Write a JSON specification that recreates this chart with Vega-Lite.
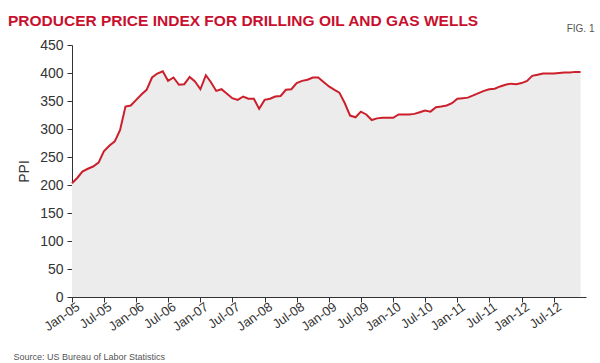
{
  "$schema": "https://vega.github.io/schema/vega-lite/v6.json",
  "width": 514,
  "height": 252,
  "autosize": "none",
  "padding": {"left": 72, "top": 45, "right": 14, "bottom": 66},
  "background": "white",
  "config": {"view": {"stroke": null}},
  "title": {
    "text": "PRODUCER PRICE INDEX FOR DRILLING OIL AND GAS WELLS",
    "anchor": "start",
    "frame": "group",
    "dx": -64,
    "offset": -18,
    "font": "Liberation Sans",
    "fontWeight": "bold",
    "fontSize": 15.5,
    "color": "#c8102e",
    "baseline": "alphabetic"
  },
  "data": {"values": [
    {"date": "2005-01-01", "ppi": 203}, {"date": "2005-02-01", "ppi": 213}, {"date": "2005-03-01", "ppi": 224}, {"date": "2005-04-01", "ppi": 229},
    {"date": "2005-05-01", "ppi": 233}, {"date": "2005-06-01", "ppi": 240}, {"date": "2005-07-01", "ppi": 260}, {"date": "2005-08-01", "ppi": 270},
    {"date": "2005-09-01", "ppi": 278}, {"date": "2005-10-01", "ppi": 298}, {"date": "2005-11-01", "ppi": 340}, {"date": "2005-12-01", "ppi": 342},
    {"date": "2006-01-01", "ppi": 352}, {"date": "2006-02-01", "ppi": 362}, {"date": "2006-03-01", "ppi": 370}, {"date": "2006-04-01", "ppi": 392},
    {"date": "2006-05-01", "ppi": 399}, {"date": "2006-06-01", "ppi": 403}, {"date": "2006-07-01", "ppi": 386}, {"date": "2006-08-01", "ppi": 392},
    {"date": "2006-09-01", "ppi": 379}, {"date": "2006-10-01", "ppi": 380}, {"date": "2006-11-01", "ppi": 393}, {"date": "2006-12-01", "ppi": 385},
    {"date": "2007-01-01", "ppi": 371}, {"date": "2007-02-01", "ppi": 396}, {"date": "2007-03-01", "ppi": 384}, {"date": "2007-04-01", "ppi": 368},
    {"date": "2007-05-01", "ppi": 371}, {"date": "2007-06-01", "ppi": 363}, {"date": "2007-07-01", "ppi": 355}, {"date": "2007-08-01", "ppi": 352},
    {"date": "2007-09-01", "ppi": 358}, {"date": "2007-10-01", "ppi": 354}, {"date": "2007-11-01", "ppi": 354}, {"date": "2007-12-01", "ppi": 336},
    {"date": "2008-01-01", "ppi": 352}, {"date": "2008-02-01", "ppi": 354}, {"date": "2008-03-01", "ppi": 358}, {"date": "2008-04-01", "ppi": 359},
    {"date": "2008-05-01", "ppi": 370}, {"date": "2008-06-01", "ppi": 371}, {"date": "2008-07-01", "ppi": 382}, {"date": "2008-08-01", "ppi": 386},
    {"date": "2008-09-01", "ppi": 388}, {"date": "2008-10-01", "ppi": 392}, {"date": "2008-11-01", "ppi": 392}, {"date": "2008-12-01", "ppi": 384},
    {"date": "2009-01-01", "ppi": 376}, {"date": "2009-02-01", "ppi": 370}, {"date": "2009-03-01", "ppi": 365}, {"date": "2009-04-01", "ppi": 346},
    {"date": "2009-05-01", "ppi": 324}, {"date": "2009-06-01", "ppi": 321}, {"date": "2009-07-01", "ppi": 331}, {"date": "2009-08-01", "ppi": 326},
    {"date": "2009-09-01", "ppi": 316}, {"date": "2009-10-01", "ppi": 319}, {"date": "2009-11-01", "ppi": 320}, {"date": "2009-12-01", "ppi": 320},
    {"date": "2010-01-01", "ppi": 320}, {"date": "2010-02-01", "ppi": 326}, {"date": "2010-03-01", "ppi": 326}, {"date": "2010-04-01", "ppi": 326},
    {"date": "2010-05-01", "ppi": 327}, {"date": "2010-06-01", "ppi": 330}, {"date": "2010-07-01", "ppi": 333}, {"date": "2010-08-01", "ppi": 331},
    {"date": "2010-09-01", "ppi": 339}, {"date": "2010-10-01", "ppi": 340}, {"date": "2010-11-01", "ppi": 342}, {"date": "2010-12-01", "ppi": 346},
    {"date": "2011-01-01", "ppi": 354}, {"date": "2011-02-01", "ppi": 355}, {"date": "2011-03-01", "ppi": 356}, {"date": "2011-04-01", "ppi": 360},
    {"date": "2011-05-01", "ppi": 364}, {"date": "2011-06-01", "ppi": 368}, {"date": "2011-07-01", "ppi": 371}, {"date": "2011-08-01", "ppi": 372},
    {"date": "2011-09-01", "ppi": 376}, {"date": "2011-10-01", "ppi": 379}, {"date": "2011-11-01", "ppi": 381}, {"date": "2011-12-01", "ppi": 380},
    {"date": "2012-01-01", "ppi": 382}, {"date": "2012-02-01", "ppi": 386}, {"date": "2012-03-01", "ppi": 395}, {"date": "2012-04-01", "ppi": 397},
    {"date": "2012-05-01", "ppi": 399}, {"date": "2012-06-01", "ppi": 399}, {"date": "2012-07-01", "ppi": 399}, {"date": "2012-08-01", "ppi": 400},
    {"date": "2012-09-01", "ppi": 401}, {"date": "2012-10-01", "ppi": 401}, {"date": "2012-11-01", "ppi": 402}, {"date": "2012-12-01", "ppi": 402}
  ]},
  "layer": [
    {
      "mark": {"type": "area", "color": "#ececec"},
      "encoding": {
        "x": {
          "field": "date", "type": "temporal",
          "scale": {"type": "utc", "domain": [{"year": 2005, "month": 1, "date": 1, "utc": true}, {"year": 2013, "month": 1, "date": 1, "utc": true}]},
          "axis": {
            "orient": "bottom",
            "format": "%b-%y",
            "values": [
              {"year": 2005, "month": 1, "date": 1, "utc": true}, {"year": 2005, "month": 7, "date": 1, "utc": true},
              {"year": 2006, "month": 1, "date": 1, "utc": true}, {"year": 2006, "month": 7, "date": 1, "utc": true},
              {"year": 2007, "month": 1, "date": 1, "utc": true}, {"year": 2007, "month": 7, "date": 1, "utc": true},
              {"year": 2008, "month": 1, "date": 1, "utc": true}, {"year": 2008, "month": 7, "date": 1, "utc": true},
              {"year": 2009, "month": 1, "date": 1, "utc": true}, {"year": 2009, "month": 7, "date": 1, "utc": true},
              {"year": 2010, "month": 1, "date": 1, "utc": true}, {"year": 2010, "month": 7, "date": 1, "utc": true},
              {"year": 2011, "month": 1, "date": 1, "utc": true}, {"year": 2011, "month": 7, "date": 1, "utc": true},
              {"year": 2012, "month": 1, "date": 1, "utc": true}, {"year": 2012, "month": 7, "date": 1, "utc": true}
            ],
            "grid": false,
            "labelAngle": -35,
            "labelAlign": "right",
            "labelBaseline": "middle",
            "labelOffset": 6,
            "labelFont": "Liberation Sans",
            "labelFontSize": 13,
            "labelColor": "#333333",
            "labelPadding": 3,
            "labelFlush": false,
            "labelOverlap": false,
            "tickSize": 5,
            "tickColor": "#333333",
            "domainColor": "#333333",
            "title": "Source: US Bureau of Labor Statistics",
            "titleFont": "Liberation Sans",
            "titleFontSize": 9,
            "titleFontWeight": "normal",
            "titleColor": "#555555",
            "titleAnchor": "start",
            "titleAlign": "left",
            "titleBaseline": "alphabetic",
            "titleX": -59,
            "titleY": 62
          }
        },
        "y": {
          "field": "ppi", "type": "quantitative",
          "scale": {"domain": [0, 450]},
          "axis": {
            "values": [0, 50, 100, 150, 200, 250, 300, 350, 400, 450],
            "grid": false,
            "labelFont": "Liberation Sans",
            "labelFontSize": 14,
            "labelColor": "#333333",
            "labelPadding": 4,
            "tickSize": 5,
            "tickColor": "#333333",
            "domainColor": "#333333",
            "title": "PPI",
            "titleFont": "Liberation Sans",
            "titleFontSize": 14,
            "titleFontWeight": "normal",
            "titleColor": "#333333",
            "titlePadding": 8
          }
        }
      }
    },
    {
      "mark": {"type": "line", "color": "#cc1f2b", "strokeWidth": 2},
      "encoding": {
        "x": {
          "field": "date", "type": "temporal",
          "axis": {
            "orient": "top",
            "labels": false,
            "ticks": false,
            "domain": false,
            "grid": false,
            "title": "FIG. 1",
            "titleFont": "Liberation Sans",
            "titleFontSize": 10,
            "titleFontWeight": "normal",
            "titleColor": "#555555",
            "titleAnchor": "end",
            "titleAlign": "right",
            "titleBaseline": "alphabetic",
            "titleX": 522,
            "titleY": -14
          }
        },
        "y": {
          "field": "ppi", "type": "quantitative",
          "axis": {
            "values": [0, 50, 100, 150, 200, 250, 300, 350, 400, 450],
            "grid": false,
            "labelFont": "Liberation Sans",
            "labelFontSize": 14,
            "labelColor": "#333333",
            "labelPadding": 4,
            "tickSize": 5,
            "tickColor": "#333333",
            "domainColor": "#333333",
            "title": "PPI",
            "titleFont": "Liberation Sans",
            "titleFontSize": 14,
            "titleFontWeight": "normal",
            "titleColor": "#333333",
            "titlePadding": 8
          }
        }
      }
    }
  ],
  "resolve": {"axis": {"x": "independent"}}
}
